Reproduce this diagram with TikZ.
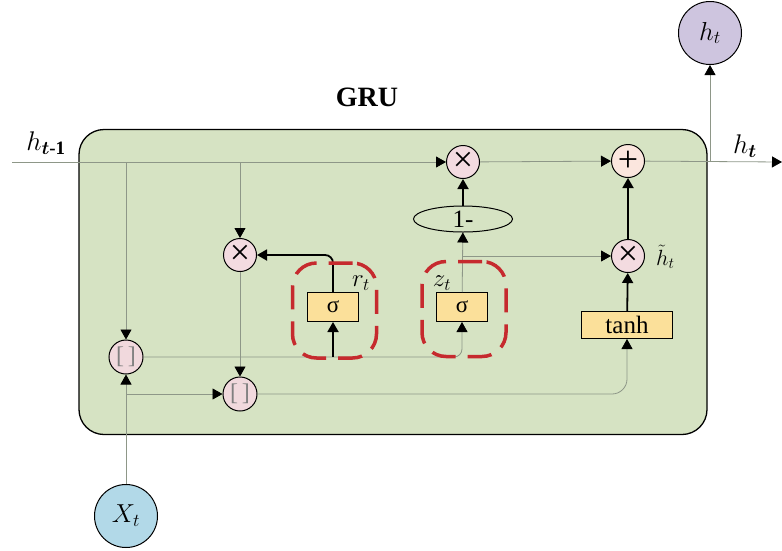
\RequirePackage{fix-cm}
\documentclass[tikz,border=0pt]{standalone}
\usepackage{amsmath}
\usepackage{amssymb}
\usepackage{fontspec}
\setmainfont{Liberation Serif}
\usepackage{tikz}
\usetikzlibrary{shapes.geometric, arrows.meta, positioning, fit, backgrounds}

\definecolor{cellgreen}{HTML}{D6E3C3}
\definecolor{multpink}{HTML}{F3DBE0}
\definecolor{catpink}{HTML}{F1D9DD}
\definecolor{pluspeach}{HTML}{FBE6DE}
\definecolor{gateyellow}{HTML}{FBE09A}
\definecolor{outpurple}{HTML}{CEC5DF}
\definecolor{inblue}{HTML}{B2D9E8}
\definecolor{ringred}{HTML}{C62A2E}
\definecolor{flowgray}{HTML}{8E9788}

\begin{document}
\begin{tikzpicture}[
    x=1pt, y=-1pt,
    cellbox/.style={rectangle, draw, rounded corners=25pt, fill=cellgreen, line width=1.3pt, minimum width=628pt, minimum height=305pt},
    opcircle/.style={circle, draw, line width=1pt, minimum size=33pt, inner sep=0pt, fill=multpink, font=\fontsize{36}{36}\selectfont},
    catcircle/.style={opcircle, fill=catpink, minimum size=34pt, text=gray, font=\fontsize{24}{24}\selectfont},
    gatebox/.style={rectangle, draw, line width=1pt, fill=gateyellow, minimum width=51pt, minimum height=29pt, inner sep=0pt, font=\fontsize{23}{23}\selectfont},
    iocircle/.style={circle, draw, line width=1pt, minimum size=63pt, inner sep=0pt, font=\fontsize{26}{26}\selectfont},
    gatering/.style={rectangle, draw=ringred, rounded corners=24pt, line width=3.5pt, dash pattern=on 24pt off 12pt, minimum width=84pt, minimum height=95pt},
    lbl/.style={font=\fontsize{27}{27}\selectfont},
    wire/.style={draw=flowgray, line width=0.8pt},
    bold/.style={draw=black, line width=1.8pt},
    tip/.style={-{Triangle[length=10pt, width=11pt, color=black]}},
]
    \useasboundingbox (0,0) rectangle (782,550);

    % Cell body
    \node[cellbox] (cell) at (393,282) {};
    \node[font=\fontsize{28}{28}\selectfont\bfseries] (title) at (367,97) {GRU};

    % Input and output
    \node[iocircle, fill=outpurple] (hout) at (710,33) {$h_t$};
    \node[iocircle, fill=inblue] (xin) at (126,516) {$X_t$};

    % Operators
    \node[opcircle] (keep) at (463,162) {×};
    \node[opcircle, fill=pluspeach] (plus) at (628,161) {+};
    \node[ellipse, draw, line width=1pt, minimum width=99pt, minimum height=26pt, inner sep=0pt, font=\fontsize{25}{25}\selectfont] (onem) at (463,219) {1-};
    \node[opcircle] (upd) at (628,256) {×};
    \node[opcircle] (reset) at (240,255) {×};
    \node[catcircle] (cat1) at (126,357) {[\,]};
    \node[catcircle] (cat2) at (240,394) {[\,]};

    % Gates
    \node[gatebox] (rsig) at (333,307) {σ};
    \node[gatebox] (zsig) at (462,307) {σ};
    \node[gatebox, minimum width=91pt, minimum height=27pt, font=\fontsize{25}{25}\selectfont] (tanh) at (627,325) {tanh};

    % Labels
    \node[lbl] (hprev) at (46,143) {$h_{\boldsymbol{t}\textbf{-1}}$};
    \node[lbl] (hnext) at (745,146) {$h_{\boldsymbol{t}}$};
    \node[lbl, font=\fontsize{25}{25}\selectfont] (rlab) at (361,283) {$r_t$};
    \node[lbl, font=\fontsize{25}{25}\selectfont] (zlab) at (442,283) {$z_t$};
    \node[lbl, font=\fontsize{22}{22}\selectfont, anchor=west, inner sep=0pt] (hcand) at (656,257) {$\tilde{h}_t$};

    % Branch points
    \coordinate (hin) at (12,162);
    \coordinate (hend) at (782,162);
    \coordinate (tapA) at (126,162);
    \coordinate (tapB) at (240,162);
    \coordinate (tapO) at (710,162);
    \coordinate (tapX) at (126,394);
    \coordinate (zbr) at (zsig |- upd);
    \coordinate (rbr) at (rsig |- cat1);

    % Connectors
    \draw[wire, tip] (hin) -- (keep);
    \draw[wire, tip] (tapA) -- (cat1);
    \draw[wire, tip] (tapB) -- (reset);
    \draw[wire, tip] (reset) -- (cat2);
    \draw[wire, tip] (keep) -- (plus);
    \draw[wire, tip] (plus) -- (hend);
    \draw[wire, tip] (tapO) -- (hout);
    \draw[bold, tip, rounded corners=8pt] (rsig) |- (reset);
    \draw[wire, tip] (zsig) -- (onem);
    \draw[wire, tip] (zbr) -- (upd);
    \draw[bold, tip] (onem) -- (keep);
    \draw[bold, tip] (tanh) -- (upd);
    \draw[bold, tip] (upd) -- (plus);
    \draw[wire, tip, rounded corners=8pt] (cat1) -| (zsig);
    \draw[bold, tip] (rbr) -- (rsig);
    \draw[wire, tip] (xin) -- (cat1);
    \draw[wire, tip] (tapX) -- (cat2);
    \draw[wire, tip, rounded corners=15pt] (cat2) -| (tanh);

    % Gate highlights
    \node[gatering] (rring) at (334.5,310.5) {};
    \node[gatering] (zring) at (464,309) {};

\end{tikzpicture}
\end{document}
